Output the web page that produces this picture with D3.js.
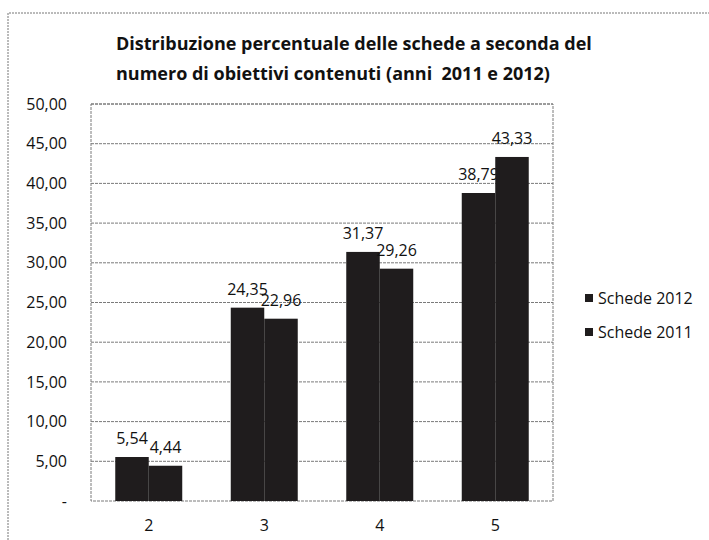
<!DOCTYPE html>
<html><head><meta charset="utf-8">
<script src="https://cdn.jsdelivr.net/npm/d3@7"></script>
<style>
html,body{margin:0;padding:0;background:#fff;}
svg{display:block;}
text{font-family:"Open Sans","Noto Sans",sans-serif;fill:#111;}
</style></head>
<body>
<svg id="chart" width="709" height="540"></svg>
<script>
const categories = ["2", "3", "4", "5"];
const series2012 = [5.54, 24.35, 31.37, 38.79];
const series2011 = [4.44, 22.96, 29.26, 43.33];
const seriesNames = ["Schede 2012", "Schede 2011"];
const yTicks = [0, 5, 10, 15, 20, 25, 30, 35, 40, 45, 50];
const titleLines = ["Distribuzione percentuale delle schede a seconda del", "numero di obiettivi contenuti (anni  2011 e 2012)"];

const svg = d3.select("#chart");
const fmt = v => v === 0 ? "-" : v.toFixed(2).replace(".", ",");

// outer frame
svg.append("path").attr("d", "M8,540 L8,13 L709,13")
  .attr("fill", "none").attr("stroke", "#777").attr("stroke-width", 1).attr("stroke-dasharray", "2,1");

const plot = {left: 91, right: 553, top: 104, bottom: 501};
const x = d3.scaleBand().domain(categories).range([plot.left, plot.right]).paddingInner(0.42).paddingOuter(0.21);
const xs = d3.scaleBand().domain(seriesNames).range([0, x.bandwidth()]);
const y = d3.scaleLinear().domain([0, 50]).range([plot.bottom, plot.top]);

// gridlines
svg.append("g").selectAll("line").data(yTicks.filter(t => t > 0)).join("line")
  .attr("x1", plot.left).attr("x2", plot.right)
  .attr("y1", d => y(d)).attr("y2", d => y(d))
  .attr("stroke", "#7a7a7a").attr("stroke-width", 1).attr("stroke-dasharray", "3,1");
// plot border
svg.append("rect").attr("x", plot.left).attr("y", plot.top)
  .attr("width", plot.right - plot.left).attr("height", plot.bottom - plot.top)
  .attr("fill", "none").attr("stroke", "#7a7a7a").attr("stroke-dasharray", "3,1");

// y axis labels
const yAxis = d3.axisLeft(y).tickValues(yTicks).tickFormat(fmt).tickSize(0).tickPadding(0);
const gy = svg.append("g").attr("transform", `translate(67,0)`).call(yAxis);
gy.select(".domain").remove();
gy.selectAll("text").attr("font-size", 16).attr("fill", "#111")
  .style("font-family", "'Open Sans','Noto Sans',sans-serif");

// x axis labels
const xAxis = d3.axisBottom(x).tickSize(0).tickPadding(0);
const gx = svg.append("g").attr("transform", `translate(0,520)`).call(xAxis);
gx.select(".domain").remove();
gx.selectAll("text").attr("font-size", 16).attr("fill", "#111")
  .style("font-family", "'Open Sans','Noto Sans',sans-serif");

// bars + labels
const allSeries = [series2012, series2011];
allSeries.forEach((vals, si) => {
  const g = svg.append("g");
  g.selectAll("rect").data(vals).join("rect")
    .attr("x", (d, i) => x(categories[i]) + xs(seriesNames[si]))
    .attr("y", d => y(d))
    .attr("width", xs.bandwidth())
    .attr("height", d => y(0) - y(d))
    .attr("fill", "#1f1c1d");
  g.selectAll("text").data(vals).join("text")
    .attr("x", (d, i) => x(categories[i]) + xs(seriesNames[si]) + xs.bandwidth() / 2)
    .attr("y", d => y(d) - 13)
    .attr("text-anchor", "middle")
    .attr("font-size", 16)
    .text(fmt);
});

// legend
const leg = svg.append("g");
seriesNames.forEach((n, i) => {
  const yy = 298 + i * 34;
  leg.append("rect").attr("x", 585).attr("y", yy - 4).attr("width", 8).attr("height", 8).attr("fill", "#1f1c1d");
  leg.append("text").attr("x", 598).attr("y", yy + 5.5).attr("font-size", 16).text(n);
});

// title
const t = svg.append("text").attr("font-weight", "bold").attr("font-size", 18).style("white-space", "pre");
titleLines.forEach((l, i) => {
  t.append("tspan").attr("x", 116).attr("y", 50 + i * 30).text(l);
});
</script>
</body></html>
